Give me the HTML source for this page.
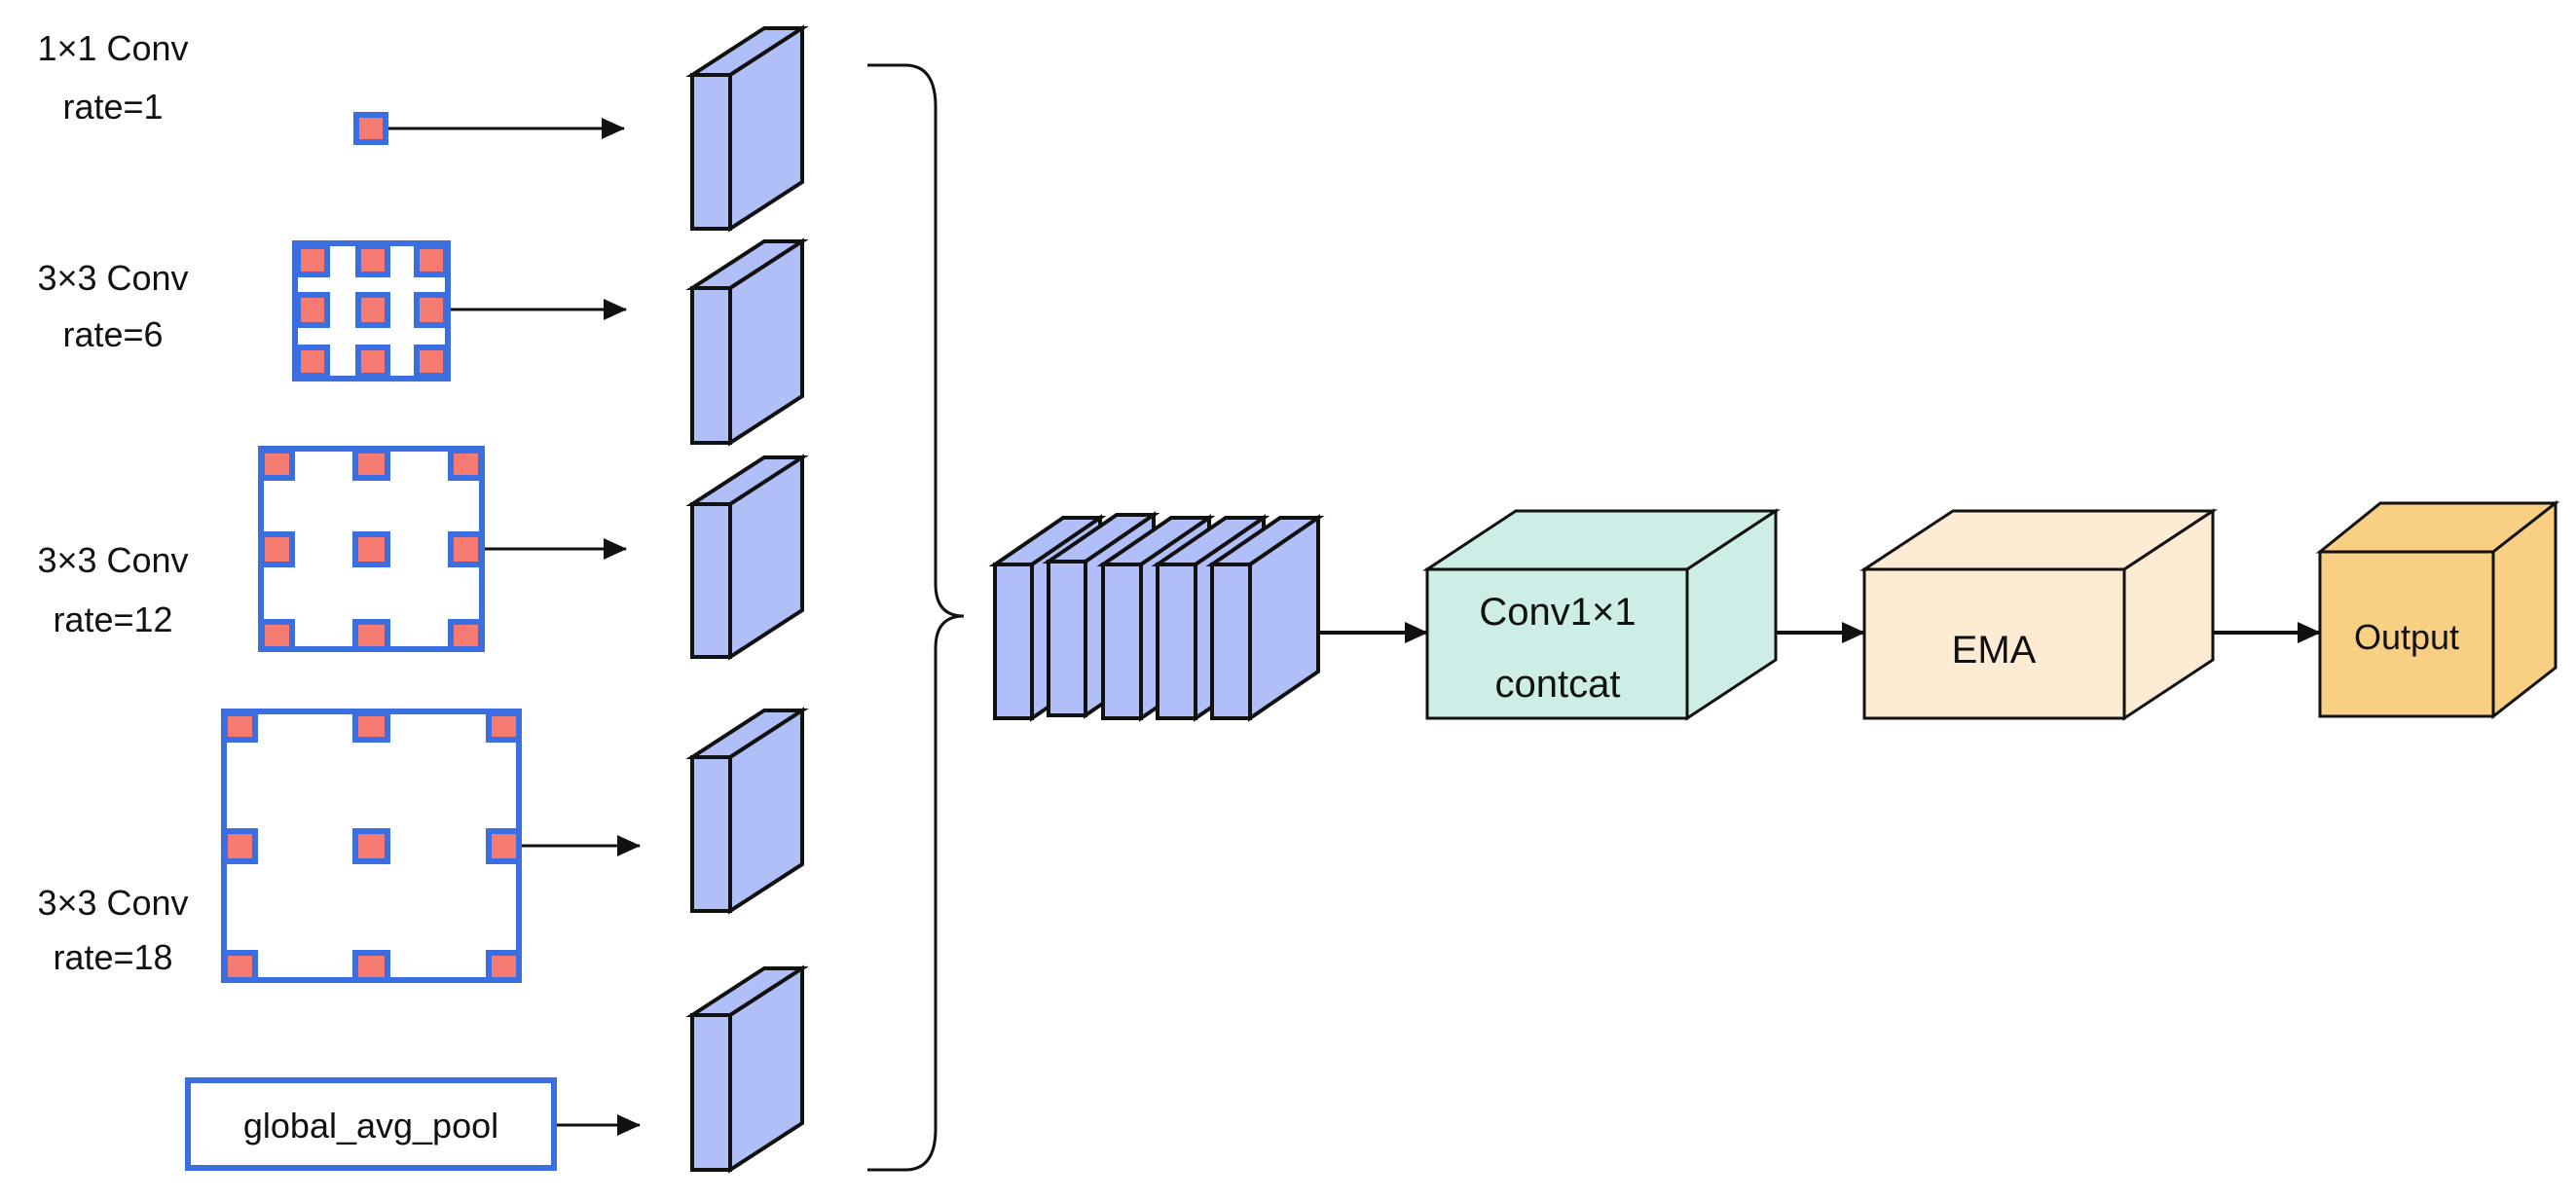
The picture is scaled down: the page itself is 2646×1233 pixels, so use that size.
<!DOCTYPE html>
<html><head><meta charset="utf-8"><style>html,body{margin:0;padding:0;background:#fff}svg{display:block}</style></head>
<body>
<svg width="2646" height="1233" viewBox="0 0 2646 1233" xmlns="http://www.w3.org/2000/svg" font-family="'Liberation Sans', sans-serif">
<defs>
<marker id="ah" markerWidth="10" markerHeight="10" refX="9" refY="5" orient="auto" markerUnits="userSpaceOnUse" viewBox="0 0 10 10"><path d="M0,0 L10,5 L0,10 z" fill="#111"/></marker>
<marker id="ah2" markerWidth="24" markerHeight="22" refX="23" refY="11" orient="auto" markerUnits="userSpaceOnUse"><path d="M0,0 L24,11 L0,22 z" fill="#111"/></marker>
</defs>
<g stroke="#111" stroke-width="4" stroke-linejoin="miter" fill="#b0bff8">
<!-- left slabs: front x711-750, dx 74 dy -48 -->
<g id="s1">
<path d="M711,77 L785,29 L824,29 L750,77 Z"/><path d="M750,77 L824,29 L824,187 L750,235 Z"/><rect x="711" y="77" width="39" height="158"/>
</g>
<path d="M711,296 L785,248 L824,248 L750,296 Z"/><path d="M750,296 L824,248 L824,407 L750,455 Z"/><rect x="711" y="296" width="39" height="159"/>
<path d="M711,518 L785,470 L824,470 L750,518 Z"/><path d="M750,518 L824,470 L824,627 L750,675 Z"/><rect x="711" y="518" width="39" height="157"/>
<path d="M711,778 L785,730 L824,730 L750,778 Z"/><path d="M750,778 L824,730 L824,888 L750,936 Z"/><rect x="711" y="778" width="39" height="158"/>
<path d="M711,1043 L785,995 L824,995 L750,1043 Z"/><path d="M750,1043 L824,995 L824,1154 L750,1202 Z"/><rect x="711" y="1043" width="39" height="159"/>
<!-- stacked slabs -->
<path d="M1022,580 L1092,532 L1130,532 L1060,580 Z"/><path d="M1060,580 L1130,532 L1130,690 L1060,738 Z"/><rect x="1022" y="580" width="38" height="158"/>
<path d="M1077,577 L1147,529 L1185,529 L1115,577 Z"/><path d="M1115,577 L1185,529 L1185,687 L1115,735 Z"/><rect x="1077" y="577" width="38" height="158"/>
<path d="M1133,580 L1203,532 L1242,532 L1172,580 Z"/><path d="M1172,580 L1242,532 L1242,690 L1172,738 Z"/><rect x="1133" y="580" width="39" height="158"/>
<path d="M1189,580 L1259,532 L1298,532 L1228,580 Z"/><path d="M1228,580 L1298,532 L1298,690 L1228,738 Z"/><rect x="1189" y="580" width="39" height="158"/>
<path d="M1245,580 L1315,532 L1354,532 L1284,580 Z"/><path d="M1284,580 L1354,532 L1354,690 L1284,738 Z"/><rect x="1245" y="580" width="39" height="158"/>
</g>
<!-- 3D boxes -->
<g stroke="#111" stroke-width="3">
<path d="M1466,585 L1557,525 L1824,525 L1733,585 Z" fill="#cdeee6"/>
<path d="M1733,585 L1824,525 L1824,678 L1733,738 Z" fill="#cdeee6"/>
<rect x="1466" y="585" width="267" height="153" fill="#cdeee6"/>
<path d="M1915,585 L2006,525 L2273,525 L2182,585 Z" fill="#fdebd3"/>
<path d="M2182,585 L2273,525 L2273,678 L2182,738 Z" fill="#fdebd3"/>
<rect x="1915" y="585" width="267" height="153" fill="#fdebd3"/>
<path d="M2383,567 L2445,517 L2625,517 L2561,567 Z" fill="#f9d083"/>
<path d="M2561,567 L2625,517 L2625,686 L2561,736 Z" fill="#f9d083"/>
<rect x="2383" y="567" width="178" height="169" fill="#f9d083"/>
</g>
<g font-size="40" fill="#111" text-anchor="middle">
<text x="1600" y="642">Conv1×1</text>
<text x="1600" y="716">contcat</text>
<text x="2048" y="681">EMA</text>
<text x="2472" y="667" font-size="36">Output</text>
</g>
<!-- arrows -->
<g stroke="#111" stroke-width="3" fill="none">
<line x1="399" y1="132" x2="641" y2="132" marker-end="url(#ah2)"/>
<line x1="462" y1="318" x2="643" y2="318" marker-end="url(#ah2)"/>
<line x1="497" y1="564" x2="643" y2="564" marker-end="url(#ah2)"/>
<line x1="535" y1="869" x2="657" y2="869" marker-end="url(#ah2)"/>
<line x1="571" y1="1156" x2="657" y2="1156" marker-end="url(#ah2)"/>
<line x1="1354" y1="650" x2="1466" y2="650" stroke-width="4" marker-end="url(#ah2)"/>
<line x1="1824" y1="650" x2="1915" y2="650" stroke-width="4" marker-end="url(#ah2)"/>
<line x1="2273" y1="650" x2="2383" y2="650" stroke-width="4" marker-end="url(#ah2)"/>
<!-- brace -->
<path d="M891,67 L930,67 Q961,67 961,110 L961,600 Q961,633 990,633 Q961,633 961,666 L961,1160 Q961,1202 930,1202 L891,1202" stroke-width="3"/>
</g>
<!-- kernels -->
<g stroke="#3b6ee0" stroke-width="6" fill="#fff">
<rect x="303" y="250" width="157" height="139"/>
<rect x="268" y="461" width="227" height="206"/>
<rect x="230" y="731" width="303" height="276"/>
<rect x="193" y="1110" width="376" height="90"/>
</g>
<g stroke="#3b6ee0" stroke-width="6" fill="#f47a72">
<rect x="366" y="118" width="30" height="28"/>
<rect x="306" y="253" width="30" height="29"/><rect x="368" y="253" width="30" height="29"/><rect x="428" y="253" width="30" height="29"/>
<rect x="306" y="303" width="30" height="31"/><rect x="368" y="303" width="30" height="31"/><rect x="428" y="303" width="30" height="31"/>
<rect x="306" y="357" width="30" height="29"/><rect x="368" y="357" width="30" height="29"/><rect x="428" y="357" width="30" height="29"/>
<rect x="269" y="463" width="31" height="28"/><rect x="365" y="463" width="33" height="28"/><rect x="463" y="463" width="31" height="28"/>
<rect x="269" y="549" width="31" height="31"/><rect x="365" y="549" width="33" height="31"/><rect x="463" y="549" width="31" height="31"/>
<rect x="269" y="639" width="31" height="28"/><rect x="365" y="639" width="33" height="28"/><rect x="463" y="639" width="31" height="28"/>
<rect x="231" y="733" width="31" height="27"/><rect x="365" y="733" width="33" height="27"/><rect x="502" y="733" width="31" height="27"/>
<rect x="231" y="854" width="31" height="31"/><rect x="365" y="854" width="33" height="31"/><rect x="502" y="854" width="31" height="31"/>
<rect x="231" y="979" width="31" height="28"/><rect x="365" y="979" width="33" height="28"/><rect x="502" y="979" width="31" height="28"/>
</g>
<g font-size="36" fill="#111" text-anchor="middle">
<text x="116" y="62">1×1 Conv</text>
<text x="116" y="122">rate=1</text>
<text x="116" y="298">3×3 Conv</text>
<text x="116" y="356">rate=6</text>
<text x="116" y="588">3×3 Conv</text>
<text x="116" y="649">rate=12</text>
<text x="116" y="940">3×3 Conv</text>
<text x="116" y="996">rate=18</text>
<text x="381" y="1169">global_avg_pool</text>
</g>
</svg>
</body></html>
